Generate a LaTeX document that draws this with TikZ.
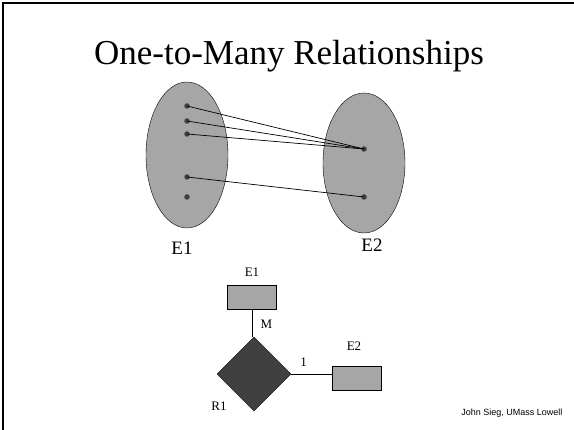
\documentclass[tikz,border=0pt]{standalone}
\usepackage{fontspec}
\setmainfont{Liberation Serif}
\setsansfont{Liberation Sans}
\usetikzlibrary{shapes.geometric, positioning}

\begin{document}
\begin{tikzpicture}[
    x=1pt, y=-1pt,
    setnode/.style={draw, ellipse, fill=black!35, inner sep=0pt, minimum width=82pt, minimum height=146pt},
    elem/.style={circle, fill=black!75, inner sep=0pt, minimum size=5.5pt},
    link/.style={black, line width=0.7pt},
    entity/.style={draw, fill=black!35, inner sep=0pt, minimum width=49pt, minimum height=24pt},
    rel/.style={draw, diamond, fill=black!75, inner sep=0pt, minimum width=74pt, minimum height=74pt},
    setlabel/.style={font=\fontsize{19}{21}\selectfont},
    small/.style={font=\fontsize{13}{15}\selectfont},
]

% ── Canvas and frame ──
\useasboundingbox (0,0) rectangle (574,430);
\fill[white] (0,0) rectangle (574,430);
\draw[line width=2pt] (3,430) -- (3,3) -- (574,3);

% ── Title ──
\node[font=\fontsize{35}{37}\selectfont, anchor=base] (title) at (289,65) {One-to-Many Relationships};

% ── Sets ──
\node[setnode] (S1) at (187,155) {};
\node[setnode, minimum height=140pt] (S2) at (364,163) {};
\node[setlabel] (S1lab) at (182,248) {E1};
\node[setlabel] (S2lab) at (372,245) {E2};

% ── Elements ──
\node[elem] (a1) at (187,106) {};
\node[elem] (a2) at (187,121) {};
\node[elem] (a3) at (187,134) {};
\node[elem] (a4) at (187,177) {};
\node[elem] (a5) at (187,197) {};
\node[elem] (b1) at (364,149) {};
\node[elem] (b2) at (364,197) {};

% ── Mapping lines ──
\draw[link] (a1.center) -- (b1.center);
\draw[link] (a2.center) -- (b1.center);
\draw[link] (a3.center) -- (b1.center);
\draw[link] (a4.center) -- (b2.center);

% ── ER diagram ──
\node[entity] (E1) at (252,297) {};
\node[small, above=5pt of E1] (E1lab) {E1};
\node[rel] (R1) at (254,374) {};
\node[entity] (E2) at (357,378) {};
\node[small] (E2lab) at (354,346) {E2};
\node[small] (R1lab) at (219,406) {R1};

\draw[link] (E1.south) -- node[small, right=5pt, pos=0.55] {M} (E1.south |- R1.north);
\draw[link] (R1.east) -- node[small, above=4pt, pos=0.3] {1} (E2.west |- R1.east);

% ── Footer ──
\node[font=\sffamily\fontsize{9}{11}\selectfont, anchor=base east] (foot) at (566,416) {John Sieg, UMass Lowell};

\end{tikzpicture}
\end{document}
